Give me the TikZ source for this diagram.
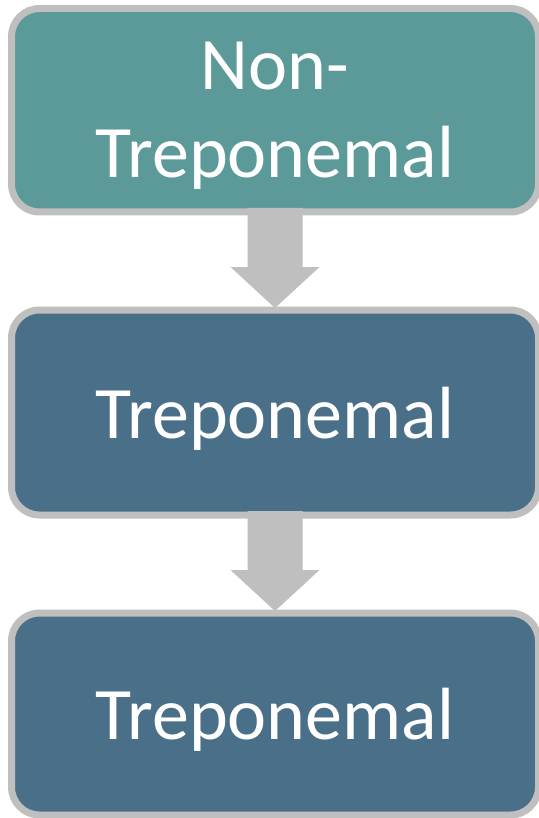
\documentclass[tikz,border=0pt]{standalone}
\usepackage{fontspec}
\setmainfont{Carlito}
\usetikzlibrary{calc}
\definecolor{tealbox}{HTML}{5B9A98}
\definecolor{bluebox}{HTML}{4A6F88}
\definecolor{rimgray}{HTML}{BFBFBF}
\begin{document}
\begin{tikzpicture}[x=1pt,y=-1pt,
  stagebox/.style={draw=rimgray, line width=7pt, rounded corners=28pt,
    minimum width=527pt, inner sep=0pt, outer sep=0pt, text=white, align=center,
    text depth=0pt, font=\fontsize{74}{88}\selectfont},
  flowarrow/.style={fill=rimgray}]
\useasboundingbox (0,0) rectangle (538,818);
\node[stagebox, fill=tealbox, minimum height=203.5pt] (b1) at (275,110.25) {Non-\\Treponemal};
\node[stagebox, fill=bluebox, minimum height=205pt] (b2) at (275,412.5) {Treponemal};
\node[stagebox, fill=bluebox, minimum height=202pt] (b3) at (275,714) {Treponemal};
\foreach \a/\b in {b1/b2,b2/b3}{
  \fill[flowarrow] ($(\a.south)+(-27.5,-4)$) -- ($(\a.south)+(-27.5,55)$)
    -- ($(\a.south)+(-44.5,55)$) -- ($(\b.north)+(0,-2)$)
    -- ($(\a.south)+(44.5,55)$) -- ($(\a.south)+(27.5,55)$)
    -- ($(\a.south)+(27.5,-4)$) -- cycle;
}
\end{tikzpicture}
\end{document}
